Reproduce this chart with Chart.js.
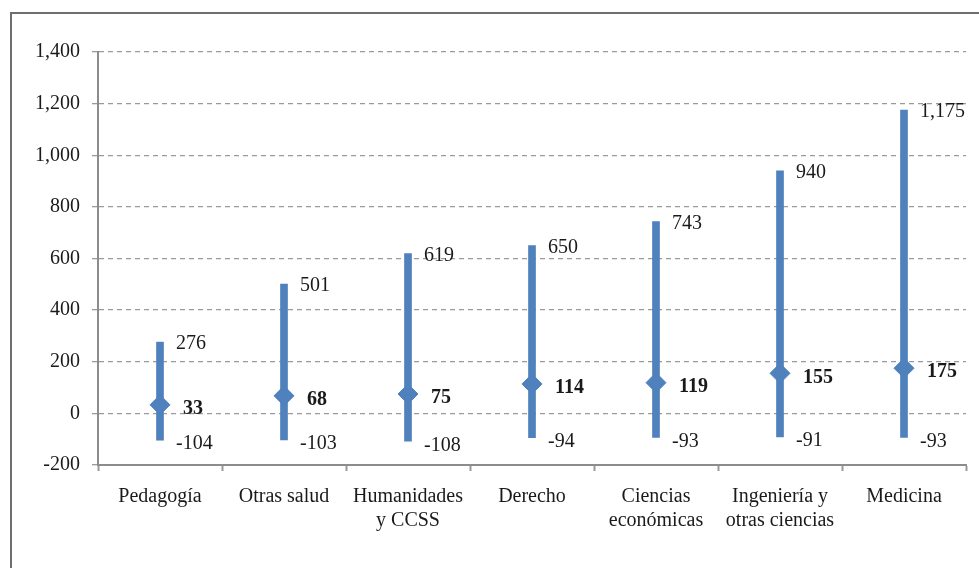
<!DOCTYPE html>
<html>
<head>
<meta charset="utf-8">
<script src="https://cdn.jsdelivr.net/npm/chart.js@4/dist/chart.umd.min.js"></script>
<style>
  html, body { margin: 0; padding: 0; background: #fff; overflow: hidden; }
  #frame { position: absolute; left: 10px; top: 12px; width: 1000px; height: 600px; border: 2px solid #6e6e6e; }
  #wrap { position: absolute; left: 0; top: 0; width: 979px; height: 568px; }
</style>
</head>
<body>
<div id="frame"></div>
<div id="wrap"><canvas id="rangeChart"></canvas></div>
<script>
var categories = [
    "Pedagogía",
    "Otras salud",
    ["Humanidades", "y CCSS"],
    "Derecho",
    ["Ciencias", "económicas"],
    ["Ingeniería y", "otras ciencias"],
    "Medicina"
];
var highValues = [276, 501, 619, 650, 743, 940, 1175];
var lowValues = [-104, -103, -108, -94, -93, -91, -93];
var midValues = [33, 68, 75, 114, 119, 155, 175];
var yTicks = { min: -200, max: 1400, step: 200 };

var blue = "#4f81bd";
var serif = "'Liberation Serif', 'DejaVu Serif', serif";

function fmt(v) {
    return v.toLocaleString("en-US");
}

// value labels next to each bar
var valueLabels = {
    id: "valueLabels",
    afterDatasetsDraw: function(chart) {
        var ctx = chart.ctx;
        var xs = chart.scales.x, ys = chart.scales.y;
        ctx.save();
        ctx.fillStyle = "#1a1a1a";
        ctx.textAlign = "left";
        ctx.textBaseline = "middle";
        for (var i = 0; i < categories.length; i++) {
            var x = xs.getPixelForValue(i);
            ctx.font = "20px " + serif;
            ctx.fillText(fmt(highValues[i]), x + 16, ys.getPixelForValue(highValues[i]) + 2);
            ctx.fillText(fmt(lowValues[i]), x + 16, ys.getPixelForValue(lowValues[i]) + 4);
            ctx.font = "bold 20px " + serif;
            ctx.fillText(fmt(midValues[i]), x + 23, ys.getPixelForValue(midValues[i]) + 4);
        }
        ctx.restore();
    }
};

var ctx = document.getElementById("rangeChart");
var rangeChart = new Chart(ctx, {
    data: {
        labels: categories,
        datasets: [
            {
                type: "line",
                label: "Mediana",
                data: midValues,
                showLine: false,
                pointStyle: "rectRot",
                pointRadius: 10,
                pointBackgroundColor: blue,
                pointBorderColor: blue,
                pointBorderWidth: 1,
                order: 0
            },
            {
                type: "bar",
                label: "Rango",
                data: lowValues.map(function(v, i) { return [v, highValues[i]]; }),
                backgroundColor: blue,
                barThickness: 7,
                borderWidth: 0,
                order: 1
            }
        ]
    },
    options: {
        responsive: true,
        maintainAspectRatio: false,
        animation: false,
        layout: {
            padding: { left: 10, right: 13, top: 52, bottom: 0 }
        },
        plugins: {
            legend: { display: false },
            tooltip: { enabled: false }
        },
        scales: {
            x: {
                offset: true,
                grid: {
                    offset: true,
                    drawOnChartArea: false,
                    drawTicks: true,
                    tickLength: 6,
                    tickColor: "#999",
                    tickWidth: 2
                },
                border: { color: "#8c8c8c", width: 2 },
                ticks: {
                    color: "#1a1a1a",
                    font: { family: serif, size: 20, lineHeight: 1.2 },
                    padding: 14,
                    maxRotation: 0,
                    autoSkip: false
                },
                afterFit: function(scale) { scale.height = 103; }
            },
            y: {
                min: yTicks.min,
                max: yTicks.max,
                ticks: {
                    stepSize: yTicks.step,
                    color: "#1a1a1a",
                    font: { family: serif, size: 20 },
                    padding: 12,
                    callback: function(v) { return fmt(v); }
                },
                grid: {
                    color: "#9a9a9a",
                    lineWidth: 1.3,
                    tickLength: 6,
                    tickBorderDash: [5, 4],
                    drawTicks: true
                },
                border: { color: "#8c8c8c", width: 2, dash: [5, 4] },
                afterFit: function(scale) { scale.width = 88; }
            }
        }
    },
    plugins: [valueLabels]
});
</script>
</body>
</html>
